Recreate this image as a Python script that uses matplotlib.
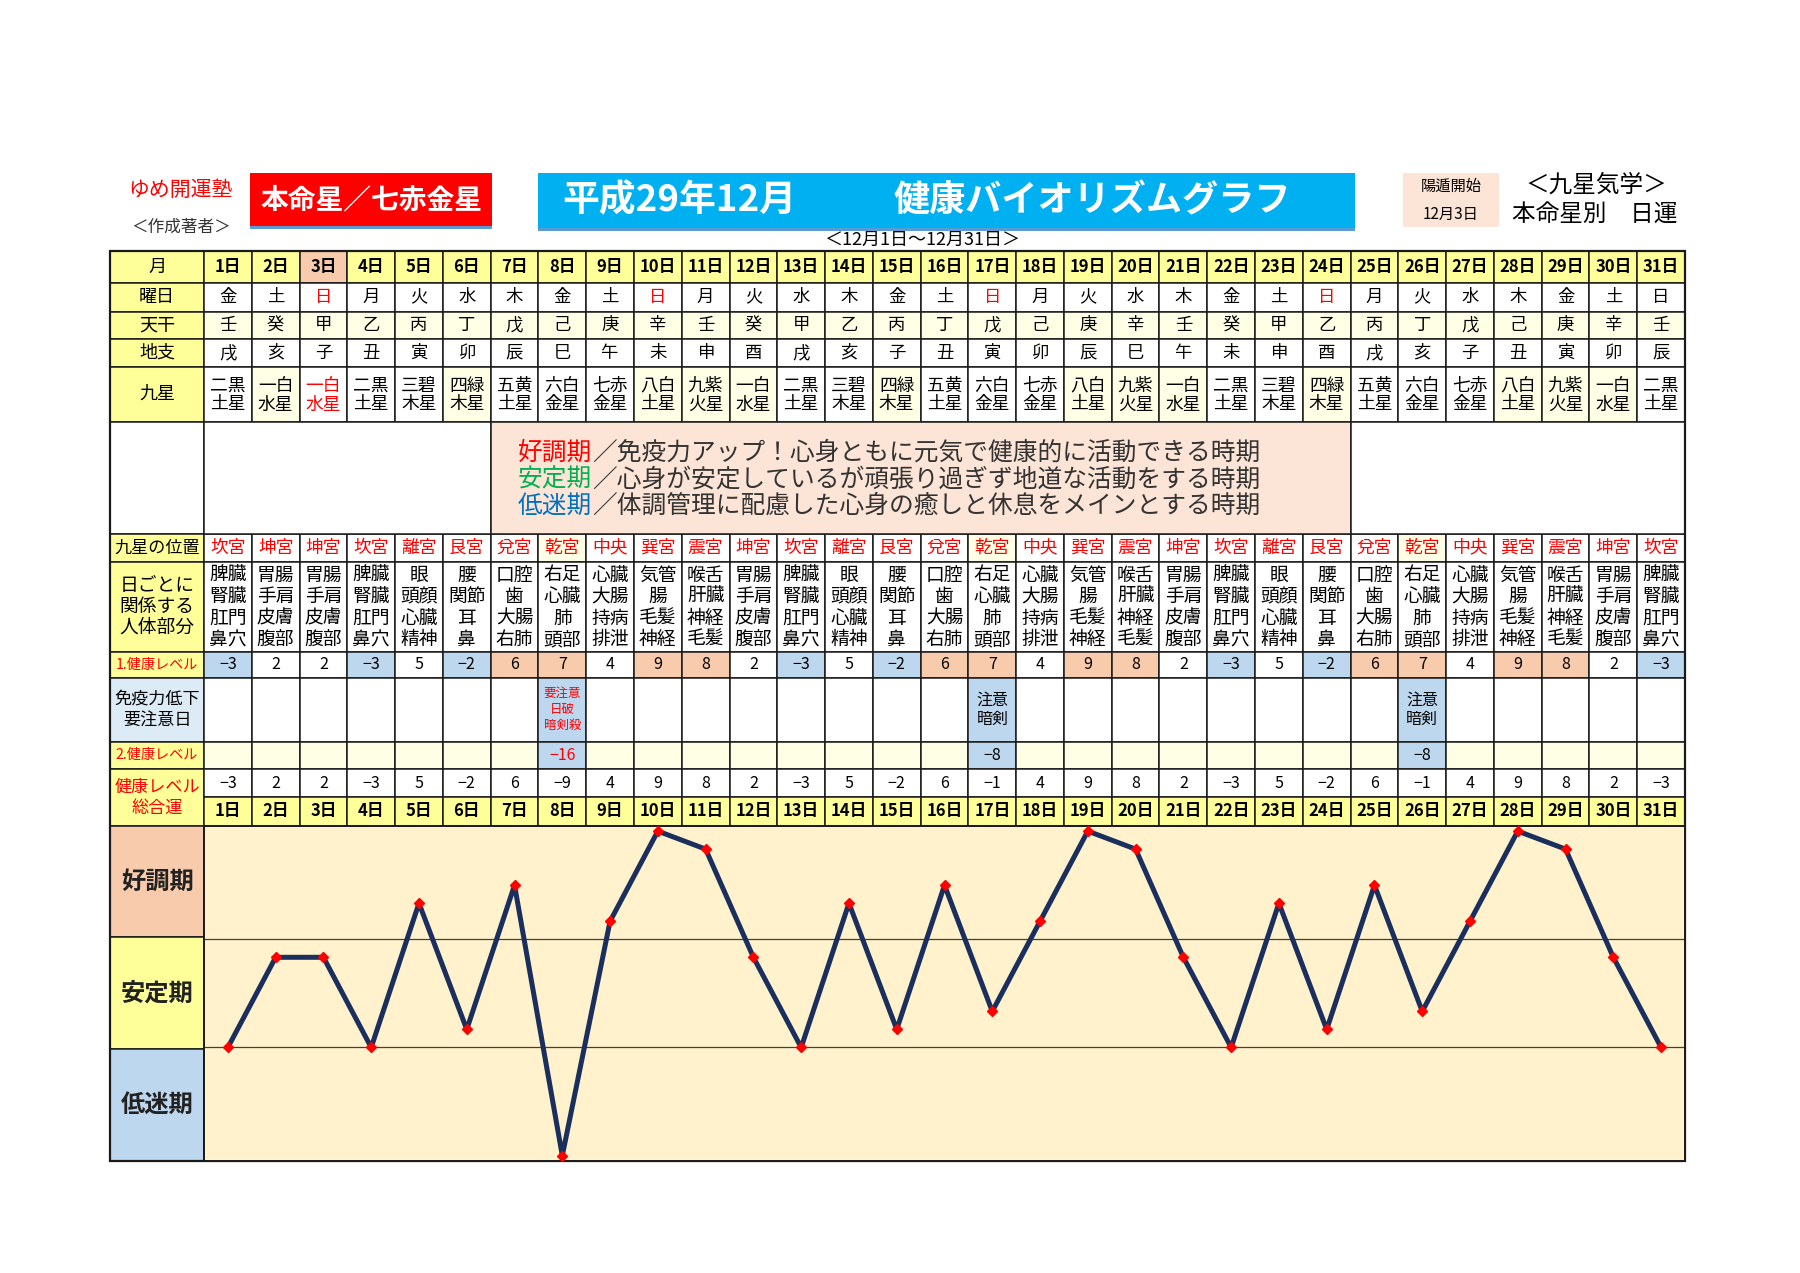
import matplotlib
matplotlib.use("Agg")
import matplotlib.pyplot as plt
from matplotlib.patches import Rectangle

plt.rcParams['font.family'] = ['Noto Sans CJK JP', 'DejaVu Sans']

# データ
days = list(range(1, 32))
weekdays = list("金土日月火水木金土日月火水木金土日月火水木金土日月火水木金土日")
red_weekday_days = [3, 10, 17, 24]
tenkan = list("壬癸甲乙丙丁戊己庚辛壬癸甲乙丙丁戊己庚辛壬癸甲乙丙丁戊己庚辛壬")
chishi = list("戌亥子丑寅卯辰巳午未申酉戌亥子丑寅卯辰巳午未申酉戌亥子丑寅卯辰")
kyusei = ["二黒土星", "一白水星", "一白水星", "二黒土星", "三碧木星", "四緑木星", "五黄土星",
          "六白金星", "七赤金星", "八白土星", "九紫火星", "一白水星", "二黒土星", "三碧木星",
          "四緑木星", "五黄土星", "六白金星", "七赤金星", "八白土星", "九紫火星", "一白水星",
          "二黒土星", "三碧木星", "四緑木星", "五黄土星", "六白金星", "七赤金星", "八白土星",
          "九紫火星", "一白水星", "二黒土星"]
red_kyusei_days = [3]
palace = ["坎宮", "坤宮", "坤宮", "坎宮", "離宮", "艮宮", "兌宮", "乾宮", "中央", "巽宮", "震宮",
          "坤宮", "坎宮", "離宮", "艮宮", "兌宮", "乾宮", "中央", "巽宮", "震宮", "坤宮", "坎宮",
          "離宮", "艮宮", "兌宮", "乾宮", "中央", "巽宮", "震宮", "坤宮", "坎宮"]
body_parts = {
    "坎宮": "脾臓\n腎臓\n肛門\n鼻穴",
    "坤宮": "胃腸\n手肩\n皮膚\n腹部",
    "離宮": "眼\n頭顔\n心臓\n精神",
    "艮宮": "腰\n関節\n耳\n鼻",
    "兌宮": "口腔\n歯\n大腸\n右肺",
    "乾宮": "右足\n心臓\n肺\n頭部",
    "中央": "心臓\n大腸\n持病\n排泄",
    "巽宮": "気管\n腸\n毛髪\n神経",
    "震宮": "喉舌\n肝臓\n神経\n毛髪",
}
level1 = [-3, 2, 2, -3, 5, -2, 6, 7, 4, 9, 8, 2, -3, 5, -2, 6, 7, 4, 9, 8, 2, -3, 5, -2, 6, 7,
          4, 9, 8, 2, -3]
caution_days = [8, 17, 26]
caution_notes = ["要注意\n日破\n暗剣殺", "注意\n暗剣", "注意\n暗剣"]
level2 = [-16, -8, -8]
total = [-3, 2, 2, -3, 5, -2, 6, -9, 4, 9, 8, 2, -3, 5, -2, 6, -1, 4, 9, 8, 2, -3, 5, -2, 6, -1,
         4, 9, 8, 2, -3]
periods = ["好調期", "安定期", "低迷期"]
period_bounds = [3, -3]
legend_lines = [("好調期", "／免疫力アップ！心身ともに元気で健康的に活動できる時期", "#FF0000"),
                ("安定期", "／心身が安定しているが頑張り過ぎず地道な活動をする時期", "#00B050"),
                ("低迷期", "／体調管理に配慮した心身の癒しと休息をメインとする時期", "#0070C0")]

# 色
YEL = "#FFFF99"
PEACH = "#F8CBAD"
BLUE = "#BDD7EE"
LTYEL = "#FFFFE6"
PINK = "#FCE4D6"

fig = plt.figure(figsize=(18, 12.73), dpi=100)
ax = fig.add_axes([0, 0, 1, 1])
ax.set_xlim(0, 1800)
ax.set_ylim(1273, 0)
ax.axis("off")

X0, XL, XR = 110, 204, 1685
W = (XR - XL) / 31


def fmt(v):
    return str(v).replace("-", "−")


def cell(x0, y0, x1, y1, fc="white", lw=1.1):
    ax.add_patch(Rectangle((x0, y0), x1 - x0, y1 - y0, facecolor=fc,
                           edgecolor="#1a1a1a", linewidth=lw, zorder=1))


def put(x, y, s, size, color="black", weight="normal", pitch=None):
    lines = s.split("\n")
    if pitch is None:
        pitch = size * 1.389 * 1.2
    n = len(lines)
    for i, ln in enumerate(lines):
        ax.text(x, y + (i - (n - 1) / 2) * pitch, ln, fontsize=size, color=color,
                weight=weight, ha="center", va="center", zorder=3)


def cx(i):
    return XL + (i + 0.5) * W


# タイトル部分
ax.text(180, 190, "ゆめ開運塾", fontsize=15, color="#FF0000", ha="center", va="center")
ax.text(181, 227, "＜作成著者＞", fontsize=12, color="#333333", ha="center", va="center")
ax.add_patch(Rectangle((250, 173), 242, 55, facecolor="#FF0000", edgecolor="none"))
ax.add_patch(Rectangle((250, 226), 242, 3, facecolor="#5B9BD5", edgecolor="none"))
ax.text(371, 200, "本命星／七赤金星", fontsize=20, color="white", weight="bold",
        ha="center", va="center")
ax.add_patch(Rectangle((538, 173), 817, 57, facecolor="#00B0F0", edgecolor="none"))
ax.add_patch(Rectangle((538, 228), 817, 3, facecolor="#5B9BD5", edgecolor="none"))
ax.text(679, 201, "平成29年12月", fontsize=26.5, color="white", weight="bold",
        ha="center", va="center")
ax.text(1092, 201, "健康バイオリズムグラフ", fontsize=26, color="white", weight="bold",
        ha="center", va="center")
ax.add_patch(Rectangle((1403, 173), 96, 54, facecolor=PINK, edgecolor="none"))
ax.text(1451, 186, "陽遁開始", fontsize=11, ha="center", va="center")
ax.text(1451, 214, "12月3日", fontsize=11, ha="center", va="center")
ax.text(1596, 185, "＜九星気学＞", fontsize=17, ha="center", va="center")
ax.text(1595, 214, "本命星別　日運", fontsize=17, ha="center", va="center")
ax.text(922, 240, "＜12月1日～12月31日＞", fontsize=13, ha="center", va="center")

# 行の位置
R_HDR = (251, 283)
R_WD = (283, 311.5)
R_TK = (311.5, 339)
R_CS = (339, 366.5)
R_KS = (366.5, 421.5)
R_LG = (421.5, 534)
R_PL = (534, 561.5)
R_BD = (561.5, 651.5)
R_L1 = (651.5, 678)
R_CA = (678, 741.5)
R_L2 = (741.5, 769)
R_TT = (769, 797)
R_DY = (797, 825.7)
R_CH = (825.7, 1161)


def mid(r):
    return (r[0] + r[1]) / 2


# ラベル列
labels = [(R_HDR, "月", YEL, "black", 13, None),
          (R_WD, "曜日", YEL, "black", 13, None),
          (R_TK, "天干", YEL, "black", 13, None),
          (R_CS, "地支", YEL, "black", 13, None),
          (R_KS, "九星", YEL, "black", 13, None),
          (R_LG, "", "white", "black", 13, None),
          (R_PL, "九星の位置", YEL, "black", 12.3, None),
          (R_BD, "日ごとに\n関係する\n人体部分", YEL, "black", 13.5, 21),
          (R_L1, "1.健康レベル", YEL, "#FF0000", 10.2, None),
          (R_CA, "免疫力低下\n要注意日", "#DDEBF7", "black", 12.3, 21.5),
          (R_L2, "2.健康レベル", YEL, "#FF0000", 10.2, None),
          ((R_TT[0], R_DY[1]), "健康レベル\n総合運", YEL, "#FF0000", 12.3, 21)]
for r, s, fc, col, fs, p in labels:
    cell(X0, r[0], XL, r[1], fc)
    if s:
        put((X0 + XL) / 2, mid(r), s, fs, col, pitch=p)

# 日ごとのセル
for i, d in enumerate(days):
    x0, x1 = XL + i * W, XL + (i + 1) * W
    c = cx(i)
    cell(x0, R_HDR[0], x1, R_HDR[1], PEACH if d == 3 else YEL)
    put(c, mid(R_HDR), f"{d}日", 12, weight="bold")
    cell(x0, R_WD[0], x1, R_WD[1])
    put(c, mid(R_WD), weekdays[i], 12.5, "#FF0000" if d in red_weekday_days else "black")
    cell(x0, R_TK[0], x1, R_TK[1], LTYEL)
    put(c, mid(R_TK), tenkan[i], 12.5)
    cell(x0, R_CS[0], x1, R_CS[1])
    put(c, mid(R_CS), chishi[i], 12.5)
    star = kyusei[i]
    tint = star[:2] in ("一白", "四緑", "八白", "九紫") and d not in red_kyusei_days
    cell(x0, R_KS[0], x1, R_KS[1], LTYEL if tint else "white")
    put(c, mid(R_KS) + 1, star[:2] + "\n" + star[2:], 12.8,
        "#FF0000" if d in red_kyusei_days else "black", pitch=19)
    cell(x0, R_PL[0], x1, R_PL[1], LTYEL if palace[i] == "乾宮" else "white")
    put(c, mid(R_PL), palace[i], 12.8, "#FF0000")
    cell(x0, R_BD[0], x1, R_BD[1])
    put(c, mid(R_BD) + 1, body_parts[palace[i]], 13.5, pitch=21.5)
    v = level1[i]
    cell(x0, R_L1[0], x1, R_L1[1], PEACH if v >= 6 else (BLUE if v < 0 else "white"))
    put(c, mid(R_L1), fmt(v), 11.5)
    if d in caution_days:
        k = caution_days.index(d)
        cell(x0, R_CA[0], x1, R_CA[1], BLUE)
        note = caution_notes[k]
        if note.count("\n") == 2:
            put(c, mid(R_CA), note, 9, "#FF0000", pitch=16)
        else:
            put(c, mid(R_CA), note, 11.5, pitch=20)
        cell(x0, R_L2[0], x1, R_L2[1], BLUE)
        put(c, mid(R_L2), fmt(level2[k]), 11.5, "#FF0000" if level2[k] < -10 else "black")
    else:
        cell(x0, R_CA[0], x1, R_CA[1])
        cell(x0, R_L2[0], x1, R_L2[1], LTYEL)
    cell(x0, R_TT[0], x1, R_TT[1])
    put(c, mid(R_TT), fmt(total[i]), 11.5)
    cell(x0, R_DY[0], x1, R_DY[1], YEL)
    put(c, mid(R_DY), f"{d}日", 12, weight="bold")

# 凡例の行（結合セル）
cell(XL, R_LG[0], XL + 6 * W, R_LG[1])
cell(XL + 6 * W, R_LG[0], XL + 24 * W, R_LG[1], PINK)
cell(XL + 24 * W, R_LG[0], XR, R_LG[1])
fs_lg = 17.8
for j, (head, rest, col) in enumerate(legend_lines):
    y = 452.6 + j * 26.5
    ax.text(518, y, head, fontsize=fs_lg, color=col, ha="left", va="center", zorder=3)
    ax.text(518 + 3 * fs_lg * 100 / 72, y, rest, fontsize=fs_lg, color="#333333",
            ha="left", va="center", zorder=3)

# グラフ左のラベル
band_h = (R_CH[1] - R_CH[0]) / 3
band_cols = [PEACH, YEL, BLUE]
for j, p in enumerate(periods):
    y0 = R_CH[0] + j * band_h
    cell(X0, y0, XL, y0 + band_h, band_cols[j])
    put((X0 + XL) / 2, y0 + band_h / 2, p, 17.5, "#222222", weight="bold")

# 外枠
ax.add_patch(Rectangle((X0, R_HDR[0]), XR - X0, R_CH[1] - R_HDR[0], facecolor="none",
                       edgecolor="#1a1a1a", linewidth=1.6, zorder=4))

# 折れ線グラフ
gx = fig.add_axes([XL / 1800, 1 - R_CH[1] / 1273, (XR - XL) / 1800,
                   (R_CH[1] - R_CH[0]) / 1273])
gx.set_zorder(2)
gx.set_facecolor("#FFF2CC")
gx.set_xlim(0.5, 31.5)
gx.set_ylim(-9.3, 9.3)
for b in period_bounds:
    gx.axhline(b, color="#404040", linewidth=0.9)
gx.plot(days, total, color="#1B2F5E", linewidth=3.6, marker="D", markersize=5.5,
        markerfacecolor="#FF0000", markeredgecolor="#FF0000", clip_on=False, zorder=3)
gx.set_xticks([])
gx.set_yticks([])
for s in gx.spines.values():
    s.set_color("#1a1a1a")
    s.set_linewidth(1.4)

fig.savefig("out.png", dpi=100)
